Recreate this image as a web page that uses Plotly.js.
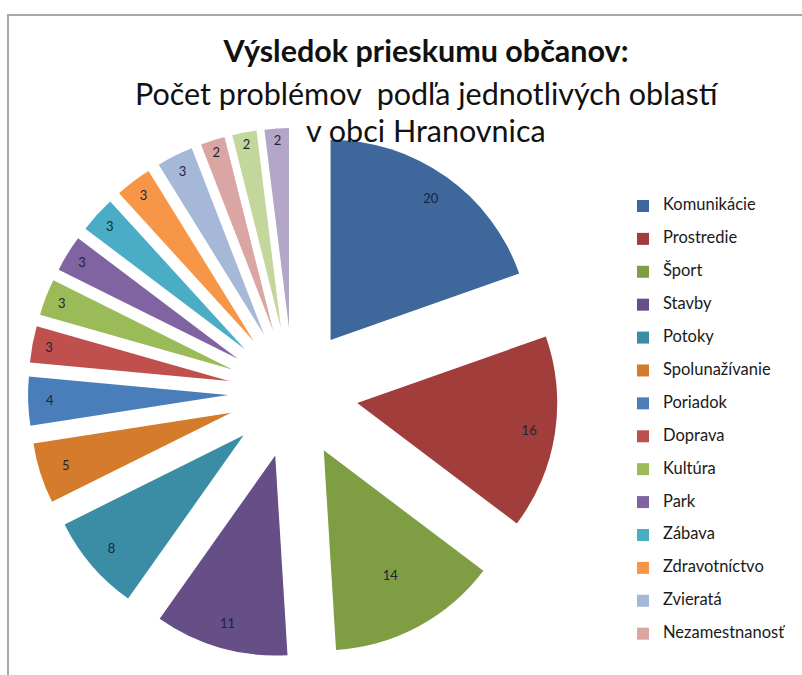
<!DOCTYPE html>
<html>
<head>
<meta charset="utf-8">
<script src="https://cdn.plot.ly/plotly-3.0.1.min.js"></script>
<style>
  html, body { margin: 0; padding: 0; background: #ffffff; overflow: hidden; }
  #frame { position: absolute; left: 7px; top: 14px; width: 900px; height: 700px;
           border-left: 2px solid #a8a8a8; border-top: 2px solid #a8a8a8; }
  #chart { position: absolute; left: 0; top: 0; width: 802px; height: 675px; }
  .legend .scrollbar { display: none; }
</style>
</head>
<body>
<div id="frame"></div>
<div id="chart"></div>
<script>
// Categories (the last two are not visible in the cropped legend)
const categories = ['Komunikácie', 'Prostredie', 'Šport', 'Stavby', 'Potoky', 'Spolunažívanie',
  'Poriadok', 'Doprava', 'Kultúra', 'Park', 'Zábava', 'Zdravotníctvo', 'Zvieratá',
  'Nezamestnanosť', 'Ostatné', 'Iné'];
// Number of problems per area
const counts = [20, 16, 14, 11, 8, 5, 4, 3, 3, 3, 3, 3, 3, 2, 2, 2];
const sliceColors = ['#3E679C', '#A13E3B', '#7F9D43', '#664E87', '#3A8DA5', '#D57B2C',
  '#4A7EBB', '#C0504D', '#9BBB59', '#8064A2', '#4BACC6', '#F79646', '#A6B8D8',
  '#D9A6A4', '#C3D69B', '#B3A6C9'];
const titleLines = ['Výsledok prieskumu občanov:', 'Počet problémov  podľa jednotlivých oblastí', 'v obci Hranovnica'];

const W = 802, H = 675;
const font = 'Lato, "Open Sans", sans-serif';
const pieDomain = { x: [28 / W, 558 / W], y: [1 - 658 / H, 1 - 128 / H] };
const pullFrac = 0.325;
// style: which slices carry their value label close to the rim
const rimLabel = [true, true, false, true, true, false, false, false, false, false, false, false, false, false, false, false];
const labelFont = { family: font, size: 13, color: '#1b2538' };

const mainPie = {
  type: 'pie',
  labels: categories.map(c => '<span style="font-size:16.5px">' + c + '</span><br> '),
  values: counts,
  sort: false,
  direction: 'clockwise',
  rotation: 0,
  pull: pullFrac,
  marker: { colors: sliceColors, line: { width: 0 } },
  texttemplate: rimLabel.map(r => r ? '' : '%{value}'),
  textposition: 'inside',
  insidetextorientation: 'horizontal',
  textfont: labelFont,
  domain: pieDomain,
  hoverinfo: 'label+value'
};

// transparent ring on top, only used to place the labels of the big slices near the rim
const rimPie = {
  type: 'pie',
  labels: categories,
  values: counts,
  sort: false,
  direction: 'clockwise',
  rotation: 0,
  pull: pullFrac,
  hole: 0.74,
  marker: { colors: counts.map(() => 'rgba(0,0,0,0)'), line: { width: 0 } },
  texttemplate: rimLabel.map(r => r ? '%{value}' : ''),
  textposition: 'inside',
  insidetextorientation: 'horizontal',
  textfont: labelFont,
  domain: pieDomain,
  showlegend: false,
  hoverinfo: 'skip'
};

const titleFont = { family: font, size: 30.5, color: '#111111' };

const layout = {
  width: W, height: H,
  margin: { l: 0, r: 0, t: 0, b: 0 },
  paper_bgcolor: 'rgba(0,0,0,0)',
  plot_bgcolor: 'rgba(0,0,0,0)',
  font: { family: font, color: '#1a1a1a' },
  title: {
    text: '<b>' + titleLines[0] + '</b>',
    font: titleFont,
    x: 426 / W, xanchor: 'center', xref: 'container',
    y: 1 - 51 / H, yanchor: 'middle', yref: 'container'
  },
  annotations: [
    { text: titleLines[1], xref: 'paper', yref: 'paper', x: 427 / W, y: 1 - 93 / H,
      xanchor: 'center', yanchor: 'middle', showarrow: false, font: titleFont },
    { text: titleLines[2], xref: 'paper', yref: 'paper', x: 426 / W, y: 1 - 130 / H,
      xanchor: 'center', yanchor: 'middle', showarrow: false, font: titleFont }
  ],
  showlegend: true,
  legend: {
    x: 623 / W, xanchor: 'left',
    y: 1 - 192 / H, yanchor: 'top',
    valign: 'top',
    font: { family: font, size: 11.5, color: '#1a1a1a' },
    bgcolor: 'rgba(0,0,0,0)',
    maxheight: 462,
    itemwidth: 30
  }
};

Plotly.newPlot('chart', [mainPie, rimPie], layout, { displayModeBar: false, staticPlot: true });
</script>
</body>
</html>
